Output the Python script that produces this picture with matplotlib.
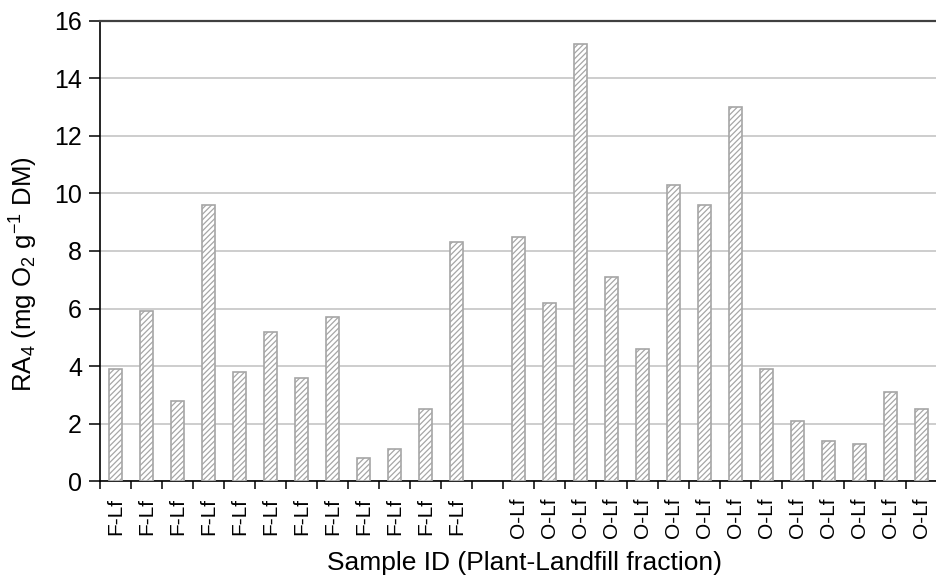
import numpy as np
import matplotlib
matplotlib.use('Agg')
import matplotlib.pyplot as plt

plt.rcParams['font.family'] = ['Liberation Sans', 'DejaVu Sans']
plt.rcParams['mathtext.fontset'] = 'custom'
plt.rcParams['mathtext.rm'] = 'Liberation Sans'
plt.rcParams['mathtext.it'] = 'Liberation Sans'
plt.rcParams['mathtext.default'] = 'regular'
plt.rcParams['hatch.color'] = '#a6a6a6'
plt.rcParams['hatch.linewidth'] = 0.9

# respirometric activity, one bar per sample
f_values = [3.9, 5.9, 2.8, 9.6, 3.8, 5.2, 3.6, 5.7, 0.8, 1.1, 2.5, 8.3]
o_values = [8.5, 6.2, 15.2, 7.1, 4.6, 10.3, 9.6, 13.0, 3.9, 2.1, 1.4, 1.3, 3.1, 2.5]
f_labels = ['F-Lf'] * len(f_values)
o_labels = ['O-Lf'] * len(o_values)

# an empty slot separates the two plants
values = f_values + [np.nan] + o_values
labels = f_labels + [''] + o_labels
x = np.arange(len(values))

fig = plt.figure(figsize=(9.37, 5.81), dpi=100)
ax = fig.add_axes([0.1067, 0.172, 0.8933, 0.792])

ax.bar(x, values, width=0.43, color='white', edgecolor='#a6a6a6',
       linewidth=1.2, hatch='//////', zorder=3)

ax.set_ylim(0, 16)
ax.set_yticks(np.arange(0, 17, 2))
ax.yaxis.grid(True, color='#c0c0c0', linewidth=1.1, zorder=0)
ax.set_xlim(-0.5, 26.27)

# boundary ticks between bars, labels centred under the bars
ax.set_xticks(np.arange(-0.5, len(values), 1.0))
ax.set_xticklabels([])
ax.set_xticks(x, minor=True)
ax.set_xticklabels(labels, minor=True, rotation=90, fontsize=15)
ax.tick_params(axis='x', which='major', length=6, width=1.1, direction='out')
ax.tick_params(axis='x', which='minor', length=0, pad=12)
ax.tick_params(axis='y', length=8, width=1.1, direction='out', labelsize=18, pad=5)

ax.spines['right'].set_visible(False)
ax.spines['top'].set_color('#404040')
ax.spines['top'].set_linewidth(1.6)
ax.spines['left'].set_linewidth(1.2)
ax.spines['bottom'].set_linewidth(1.2)

fig.text(24 / 937, 1 - 274 / 581, r'RA$_4$ (mg O$_2$ g$^{-1}$ DM)', fontsize=18.5,
         rotation=90, ha='center', va='center')
fig.text(525 / 937, 1 - 563 / 581, 'Sample ID (Plant-Landfill fraction)', fontsize=19,
         ha='center', va='center')

fig.savefig('out.png', dpi=100)
